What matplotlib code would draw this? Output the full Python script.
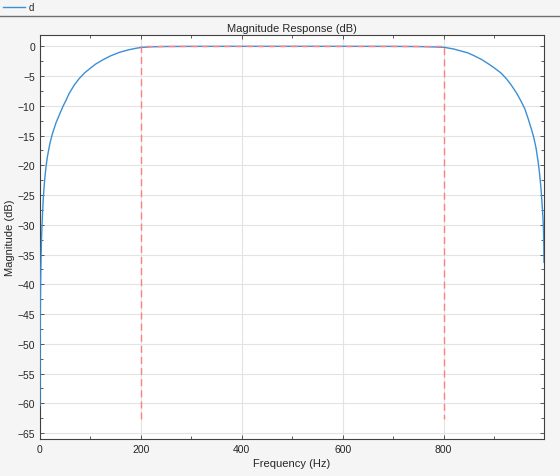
import matplotlib
matplotlib.use("Agg")
import matplotlib.pyplot as plt
from matplotlib.lines import Line2D
from matplotlib.ticker import MultipleLocator

plt.rcParams["font.family"] = ["Liberation Sans", "DejaVu Sans"]

# ── Data ──────────────────────────────────────────────────────────────────────
freq_hz = [0.12, 0.3, 0.6, 1, 1.5, 2, 3, 4, 5, 6.6, 8, 10, 12, 15, 20, 25, 32,
           40, 45, 52, 58, 68, 78, 88, 98, 110, 124, 140, 158, 175, 191, 200,
           220, 250, 300, 400, 500, 600, 700, 750, 780, 801, 820, 835, 848,
           861, 875, 888, 900, 914, 925, 934, 945, 954, 961, 967, 974, 979,
           983.5, 987, 990, 993, 995, 997, 998, 998.6, 999]
mag_db = [-60.4, -52.5, -46.5, -42.0, -38.5, -36.0, -32.5, -30.2, -28.2, -25.5,
          -23.8, -21.8, -20.2, -18.4, -16.2, -14.6, -12.8, -11.2, -10.2, -9.0,
          -7.9, -6.5, -5.4, -4.5, -3.8, -3.0, -2.3, -1.6, -1.0, -0.6, -0.32,
          -0.2, -0.08, -0.03, -0.01, 0.0, 0.0, 0.0, -0.01, -0.04, -0.1, -0.17,
          -0.45, -0.8, -1.1, -1.6, -2.2, -2.9, -3.6, -4.5, -5.5, -6.5, -7.9,
          -9.3, -10.5, -12.0, -13.9, -15.4, -17.2, -19.2, -21.2, -23.8, -26.2,
          -28.8, -30.7, -33.5, -36.3]

# passband spec mask (red dashed)
mask_f = [200, 200, 800, 800]
mask_db = [-62.6, 0, 0, -62.6]

# ── Figure ────────────────────────────────────────────────────────────────────
fig = plt.figure(figsize=(5.6, 4.77), dpi=100, facecolor="#f5f5f5")
ax = fig.add_axes([0.0714, 0.0776, 0.9, 0.8469])
ax.set_facecolor("white")

ax.plot(freq_hz, mag_db, color="#3a8fd6", lw=1.0, zorder=3)
ax.plot(mask_f, mask_db, color="#ff8080", lw=1.0, ls=(0, (5, 3)), zorder=4)

ax.set_xlim(0, 999)
ax.set_ylim(-66, 1.9)
ax.xaxis.set_major_locator(MultipleLocator(200))
ax.xaxis.set_minor_locator(MultipleLocator(100))
ax.yaxis.set_major_locator(MultipleLocator(5))
ax.yaxis.set_minor_locator(MultipleLocator(2.5))
ax.grid(True, which="major", color="#e3e3e3", lw=0.8, zorder=0)
ax.set_axisbelow(True)

ax.tick_params(which="both", direction="in", top=True, right=True,
               colors="#404040", labelcolor="#262626", labelsize=7.5)
ax.tick_params(which="major", length=3, width=0.6)
ax.tick_params(which="minor", length=2, width=0.6)
for s in ax.spines.values():
    s.set_color("#404040")
    s.set_linewidth(0.8)

ax.set_title("Magnitude Response (dB)", fontsize=8, color="#262626", pad=3)
ax.set_xlabel("Frequency (Hz)", fontsize=8, color="#262626", labelpad=3)
ax.set_ylabel("Magnitude (dB)", fontsize=8, color="#262626", labelpad=2)

# toolbar-like legend strip on top
fig.add_artist(Line2D([0, 1], [1 - 17.3 / 477] * 2, color="#6e6e6e", lw=1.0,
                      transform=fig.transFigure))
fig.add_artist(Line2D([3 / 560, 25 / 560], [1 - 7.7 / 477] * 2, color="#3a8fd6",
                      lw=1.0, transform=fig.transFigure))
fig.text(28.5 / 560, 1 - 7.7 / 477, "d", fontsize=7, color="#262626",
         va="center", ha="left")

fig.savefig("out.png", dpi=100, facecolor=fig.get_facecolor())
